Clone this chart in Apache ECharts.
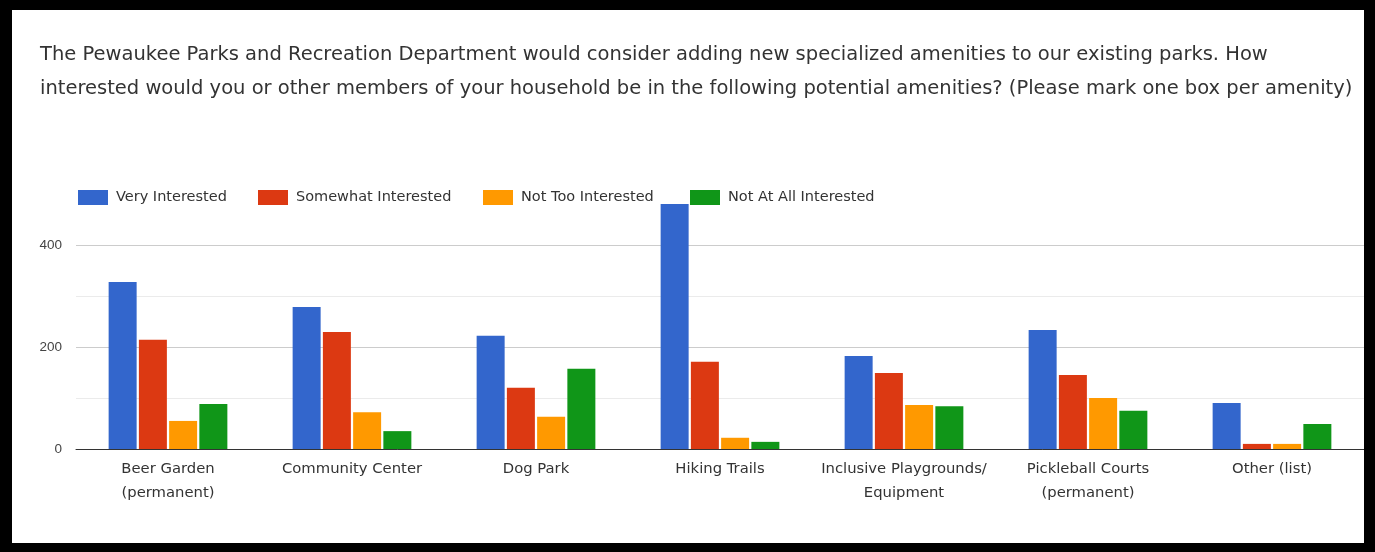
<!DOCTYPE html>
<html>
<head>
<meta charset="utf-8">
<script src="https://cdn.jsdelivr.net/npm/echarts@6/dist/echarts.min.js"></script>
<style>
  html, body { margin: 0; padding: 0; background: #000; }
  #wrap { position: relative; width: 1375px; height: 552px; background: #000; overflow: hidden; }
  #chart { position: absolute; left: 12px; top: 10px; width: 1352px; height: 533px; background: #fff; }
</style>
</head>
<body>
<div id="wrap"><div id="chart"></div></div>
<script>
const titleText = 'The Pewaukee Parks and Recreation Department would consider adding new specialized amenities to our existing parks. How\ninterested would you or other members of your household be in the following potential amenities? (Please mark one box per amenity)';
const categories = ['Beer Garden\n(permanent)', 'Community Center', 'Dog Park', 'Hiking Trails', 'Inclusive Playgrounds/\nEquipment', 'Pickleball Courts\n(permanent)', 'Other (list)'];
const seriesNames = ['Very Interested', 'Somewhat Interested', 'Not Too Interested', 'Not At All Interested'];
const veryInterested =      [327, 278, 222, 480, 182, 233, 90];
const somewhatInterested =  [214, 229, 120, 171, 149, 145, 10];
const notTooInterested =    [55, 72, 63, 22, 86, 100, 10];
const notAtAllInterested =  [88, 35, 157, 14, 84, 75, 49];
const colors = ['#3366cc', '#dc3912', '#ff9900', '#109618'];
const yTicks = [0, 200, 400];

const values = [veryInterested, somewhatInterested, notTooInterested, notAtAllInterested];
const legendLefts = [61, 241, 466, 673];

const chart = echarts.init(document.getElementById('chart'), null, { renderer: 'canvas' });
chart.setOption({
  animation: false,
  color: colors,
  title: {
    text: titleText,
    left: 23, top: 23,
    textStyle: { fontFamily: 'DejaVu Sans', fontSize: 19.5, fontWeight: 'normal', color: '#333', lineHeight: 34 }
  },
  legend: seriesNames.map((n, i) => ({
    data: [n], left: legendLefts[i], top: 175,
    itemWidth: 30, itemHeight: 15, itemGap: 0,
    icon: 'rect',
    textStyle: { fontFamily: 'DejaVu Sans', fontSize: 14.5, color: '#333', padding: [0, 0, 0, 3] }
  })),
  grid: { left: 64, top: 194, width: 1300, height: 245, containLabel: false },
  xAxis: {
    type: 'category', data: categories,
    axisTick: { show: false },
    axisLine: { lineStyle: { color: '#333', width: 1 } },
    axisLabel: { fontFamily: 'DejaVu Sans', fontSize: 14.8, color: '#333', lineHeight: 24, margin: 8, interval: 0 }
  },
  yAxis: {
    type: 'value', min: 0, max: 480, interval: 200,
    axisLine: { show: false }, axisTick: { show: false },
    axisLabel: { fontFamily: 'Arial', fontSize: 13.5, color: '#444', margin: 14, showMaxLabel: false,
      formatter: v => yTicks.includes(v) ? String(v) : '' },
    splitLine: { show: true, showMaxLine: false, lineStyle: { color: '#cccccc', width: 1 } },
    minorTick: { show: false, splitNumber: 2 },
    minorSplitLine: { show: true, lineStyle: { color: '#ebebeb', width: 1 } }
  },
  series: seriesNames.map((n, i) => ({
    name: n, type: 'bar', data: values[i],
    barWidth: 28, barGap: '8%',
    itemStyle: { color: colors[i] }
  }))
});
</script>
</body>
</html>
